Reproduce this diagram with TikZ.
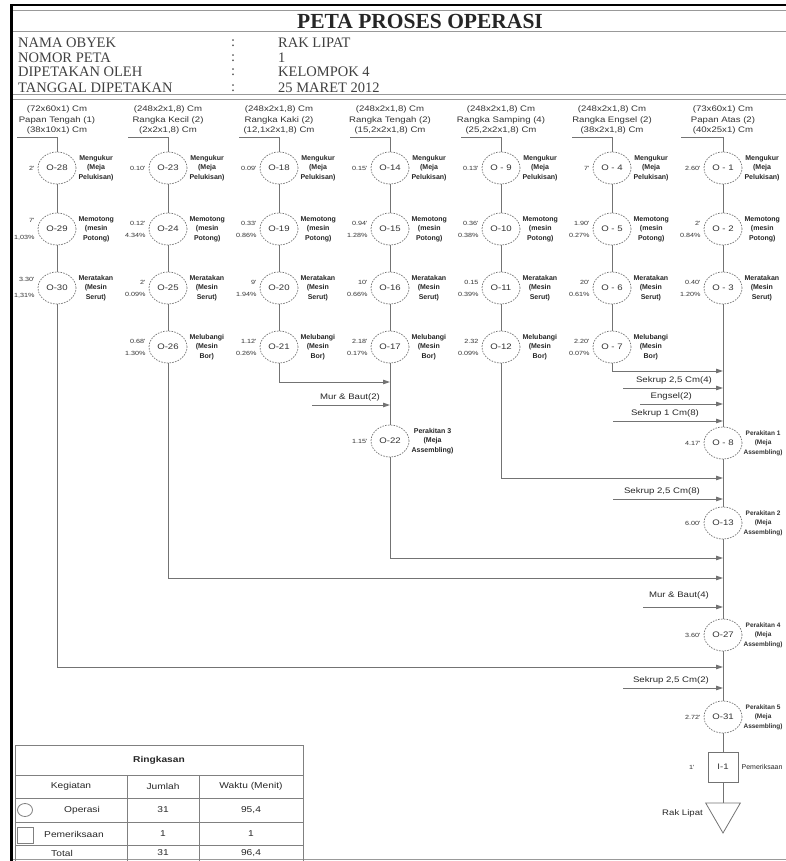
\documentclass[tikz,border=0pt]{standalone}
\usepackage{fontspec}
\setmainfont{Liberation Serif}
\setsansfont{Liberation Sans}
\newfontfamily\lblfont[FakeStretch=1.2]{Liberation Sans}
\usetikzlibrary{arrows.meta,positioning,shapes.geometric}

\begin{document}
\begin{tikzpicture}[x=1pt,y=-1pt,>={Triangle[length=7pt,width=4.5pt]},line join=miter,
  flow/.style={draw=black!55,line width=0.9pt},
  op/.style={ellipse,draw=black!55,dash pattern=on 1.6pt off 1.2pt,line width=0.7pt,minimum width=38pt,minimum height=32pt,inner sep=0pt,font=\lblfont\fontsize{8}{9}\selectfont,text=black!80},
  tm/.style={font=\lblfont\fontsize{6}{12}\selectfont,align=right,inner sep=1pt,text=black!80},
  ds/.style={font=\sffamily\bfseries\fontsize{7}{9.5}\selectfont,align=center,inner sep=1pt,text=black!85},
  asm/.style={font=\sffamily\bfseries\fontsize{6.5}{9.5}\selectfont,align=center,inner sep=0.5pt,text=black!80},
  hd/.style={font=\lblfont\fontsize{8}{10.5}\selectfont,align=center,inner sep=0pt,text=black!80},
  mat/.style={font=\lblfont\fontsize{8}{9}\selectfont,inner sep=0pt,text=black!85},
  info/.style={font=\fontsize{14.5}{16}\selectfont,anchor=west,inner sep=0pt,text=black!75},
  tb/.style={font=\lblfont\fontsize{8.5}{10}\selectfont,inner sep=0pt,text=black!85},
  frame/.style={draw=black!40,line width=1pt},
  tbl/.style={draw=black!50,line width=0.8pt}]
\useasboundingbox (0,0) rectangle (786,861);
% frame and header
\draw[line width=2.5pt] (11.5,861) -- (11.5,5) -- (786,5);
\draw[frame] (13,11) -- (786,11);
\draw[frame] (13,32) -- (786,32);
\draw[frame] (13,95) -- (786,95);
\draw[frame] (13,100) -- (786,100);
\draw[frame] (13,859.5) -- (786,859.5);
\node[font=\bfseries\fontsize{21.5}{24}\selectfont,text=black!85] (title) at (420,21) {PETA PROSES OPERASI};
\node[info] (k1) at (18,43) {NAMA OBYEK};
\node[info] (k2) at (18,58) {NOMOR PETA};
\node[info] (k3) at (18,72) {DIPETAKAN OLEH};
\node[info] (k4) at (18,88) {TANGGAL DIPETAKAN};
\node[info] (c1) at (231,43) {:};
\node[info] (c2) at (231,58) {:};
\node[info] (c3) at (231,72) {:};
\node[info] (c4) at (231,88) {:};
\node[info] (v1) at (278,43) {RAK LIPAT};
\node[info] (v2) at (278,58) {1};
\node[info] (v3) at (278,72) {KELOMPOK 4};
\node[info] (v4) at (278,88) {25 MARET 2012};
% material headers
\node[hd] (h1) at (57,120) {(72x60x1) Cm\\Papan Tengah (1)\\(38x10x1) Cm};
\node[hd] (h2) at (168,120) {(248x2x1,8) Cm\\Rangka Kecil (2)\\(2x2x1,8) Cm};
\node[hd] (h3) at (279,120) {(248x2x1,8) Cm\\Rangka Kaki (2)\\(12,1x2x1,8) Cm};
\node[hd] (h4) at (390,120) {(248x2x1,8) Cm\\Rangka Tengah (2)\\(15,2x2x1,8) Cm};
\node[hd] (h5) at (501,120) {(248x2x1,8) Cm\\Rangka Samping (4)\\(25,2x2x1,8) Cm};
\node[hd] (h6) at (612,120) {(248x2x1,8) Cm\\Rangka Engsel (2)\\(38x2x1,8) Cm};
\node[hd] (h7) at (723,120) {(73x60x1) Cm\\Papan Atas (2)\\(40x25x1) Cm};
\coordinate (s1) at (17,137);
\coordinate (s2) at (128,137);
\coordinate (s3) at (239,137);
\coordinate (s4) at (350,137);
\coordinate (s5) at (461,137);
\coordinate (s6) at (572,137);
\coordinate (s7) at (681,137);
% column 1
\node[op] (o28) at (57,168) {O-28};
\node[tm,left=2pt of o28] (t28) {2'};
\node[ds,right=1pt of o28] (d28) {Mengukur\\(Meja\\Pelukisan)};
\node[op] (o29) at (57,229) {O-29};
\node[tm,left=2pt of o29] (t29) {7'\\[5pt]1,03\%};
\node[ds,right=1pt of o29] (d29) {Memotong\\(mesin\\Potong)};
\node[op] (o30) at (57,288) {O-30};
\node[tm,left=2pt of o30] (t30) {3.30'\\[4pt]1,31\%};
\node[ds,right=1pt of o30] (d30) {Meratakan\\(Mesin\\Serut)};
% column 2
\node[op] (o23) at (168,168) {O-23};
\node[tm,left=2pt of o23] (t23) {0.10'};
\node[ds,right=1pt of o23] (d23) {Mengukur\\(Meja\\Pelukisan)};
\node[op] (o24) at (168,229) {O-24};
\node[tm,left=2pt of o24] (t24) {0.12'\\4.34\%};
\node[ds,right=1pt of o24] (d24) {Memotong\\(mesin\\Potong)};
\node[op] (o25) at (168,288) {O-25};
\node[tm,left=2pt of o25] (t25) {2'\\0.09\%};
\node[ds,right=1pt of o25] (d25) {Meratakan\\(Mesin\\Serut)};
\node[op] (o26) at (168,347) {O-26};
\node[tm,left=2pt of o26] (t26) {0.68'\\1.30\%};
\node[ds,right=1pt of o26] (d26) {Melubangi\\(Mesin\\Bor)};
% column 3
\node[op] (o18) at (279,168) {O-18};
\node[tm,left=2pt of o18] (t18) {0.09'};
\node[ds,right=1pt of o18] (d18) {Mengukur\\(Meja\\Pelukisan)};
\node[op] (o19) at (279,229) {O-19};
\node[tm,left=2pt of o19] (t19) {0.33'\\0.86\%};
\node[ds,right=1pt of o19] (d19) {Memotong\\(mesin\\Potong)};
\node[op] (o20) at (279,288) {O-20};
\node[tm,left=2pt of o20] (t20) {9'\\1.94\%};
\node[ds,right=1pt of o20] (d20) {Meratakan\\(Mesin\\Serut)};
\node[op] (o21) at (279,347) {O-21};
\node[tm,left=2pt of o21] (t21) {1.12'\\0.26\%};
\node[ds,right=1pt of o21] (d21) {Melubangi\\(Mesin\\Bor)};
% column 4
\node[op] (o14) at (390,168) {O-14};
\node[tm,left=2pt of o14] (t14) {0.15'};
\node[ds,right=1pt of o14] (d14) {Mengukur\\(Meja\\Pelukisan)};
\node[op] (o15) at (390,229) {O-15};
\node[tm,left=2pt of o15] (t15) {0.94'\\1.28\%};
\node[ds,right=1pt of o15] (d15) {Memotong\\(mesin\\Potong)};
\node[op] (o16) at (390,288) {O-16};
\node[tm,left=2pt of o16] (t16) {10'\\0.66\%};
\node[ds,right=1pt of o16] (d16) {Meratakan\\(Mesin\\Serut)};
\node[op] (o17) at (390,347) {O-17};
\node[tm,left=2pt of o17] (t17) {2.18'\\0.17\%};
\node[ds,right=1pt of o17] (d17) {Melubangi\\(Mesin\\Bor)};
\node[op] (o22) at (390,441) {O-22};
\node[tm,left=2pt of o22] (t22) {1.15'};
\node[ds,right=1pt of o22] (d22) {Perakitan 3\\(Meja\\Assembling)};
% column 5
\node[op] (o9) at (501,168) {O - 9};
\node[tm,left=2pt of o9] (t9) {0.13'};
\node[ds,right=1pt of o9] (d9) {Mengukur\\(Meja\\Pelukisan)};
\node[op] (o10) at (501,229) {O-10};
\node[tm,left=2pt of o10] (t10) {0.36'\\0.38\%};
\node[ds,right=1pt of o10] (d10) {Memotong\\(mesin\\Potong)};
\node[op] (o11) at (501,288) {O-11};
\node[tm,left=2pt of o11] (t11) {0.15\\0.39\%};
\node[ds,right=1pt of o11] (d11) {Meratakan\\(Mesin\\Serut)};
\node[op] (o12) at (501,347) {O-12};
\node[tm,left=2pt of o12] (t12) {2.32\\0.09\%};
\node[ds,right=1pt of o12] (d12) {Melubangi\\(Mesin\\Bor)};
% column 6
\node[op] (o4) at (612,168) {O - 4};
\node[tm,left=2pt of o4] (t4) {7'};
\node[ds,right=1pt of o4] (d4) {Mengukur\\(Meja\\Pelukisan)};
\node[op] (o5) at (612,229) {O - 5};
\node[tm,left=2pt of o5] (t5) {1.90'\\0.27\%};
\node[ds,right=1pt of o5] (d5) {Memotong\\(mesin\\Potong)};
\node[op] (o6) at (612,288) {O - 6};
\node[tm,left=2pt of o6] (t6) {20'\\0.61\%};
\node[ds,right=1pt of o6] (d6) {Meratakan\\(Mesin\\Serut)};
\node[op] (o7) at (612,347) {O - 7};
\node[tm,left=2pt of o7] (t7) {2.20'\\0.07\%};
\node[ds,right=1pt of o7] (d7) {Melubangi\\(Mesin\\Bor)};
% column 7 and main line
\node[op] (o1) at (723,168) {O - 1};
\node[tm,left=2pt of o1] (t1) {2.60'};
\node[ds,right=1pt of o1] (d1) {Mengukur\\(Meja\\Pelukisan)};
\node[op] (o2) at (723,229) {O - 2};
\node[tm,left=2pt of o2] (t2) {2'\\0.84\%};
\node[ds,right=1pt of o2] (d2) {Memotong\\(mesin\\Potong)};
\node[op] (o3) at (723,288) {O - 3};
\node[tm,left=2pt of o3] (t3) {0.40'\\1.20\%};
\node[ds,right=1pt of o3] (d3) {Meratakan\\(Mesin\\Serut)};
\node[op] (o8) at (723,443) {O - 8};
\node[tm,left=2pt of o8] (t8) {4.17'};
\node[asm,right=0.5pt of o8] (d8) {Perakitan 1\\(Meja\\Assembling)};
\node[op] (o13) at (723,523) {O-13};
\node[tm,left=2pt of o13] (t13) {6.00'};
\node[asm,right=0.5pt of o13] (d13) {Perakitan 2\\(Meja\\Assembling)};
\node[op] (o27) at (723,635) {O-27};
\node[tm,left=2pt of o27] (t27) {3.60'};
\node[asm,right=0.5pt of o27] (d27) {Perakitan 4\\(Meja\\Assembling)};
\node[op] (o31) at (723,717) {O-31};
\node[tm,left=2pt of o31] (t31) {2.72'};
\node[asm,right=0.5pt of o31] (d31) {Perakitan 5\\(Meja\\Assembling)};
\node[draw=black!55,line width=0.8pt,minimum size=30pt,inner sep=0pt,font=\lblfont\fontsize{8}{9}\selectfont,text=black!80] (i1) at (723,767) {I-1};
\node[tm,left=12pt of i1] (ti1) {1'};
\node[font=\sffamily\fontsize{7}{8}\selectfont,inner sep=0pt,text=black!85,right=3pt of i1] (di1) {Pemeriksaan};
\node[regular polygon,regular polygon sides=3,shape border rotate=180,draw=black!55,line width=0.8pt,minimum size=40pt,inner sep=0pt] (rak) at (723,813) {};
\node[mat,left=8pt of rak] (drak) {Rak Lipat};
% flows
\draw[flow] (s1) -| (o28);
\draw[flow] (o28) -- (o29);
\draw[flow] (o29) -- (o30);
\draw[flow] (s2) -| (o23);
\draw[flow] (o23) -- (o24);
\draw[flow] (o24) -- (o25);
\draw[flow] (o25) -- (o26);
\draw[flow] (s3) -| (o18);
\draw[flow] (o18) -- (o19);
\draw[flow] (o19) -- (o20);
\draw[flow] (o20) -- (o21);
\draw[flow] (s4) -| (o14);
\draw[flow] (o14) -- (o15);
\draw[flow] (o15) -- (o16);
\draw[flow] (o16) -- (o17);
\draw[flow] (o17) -- (o22);
\draw[flow] (s5) -| (o9);
\draw[flow] (o9) -- (o10);
\draw[flow] (o10) -- (o11);
\draw[flow] (o11) -- (o12);
\draw[flow] (s6) -| (o4);
\draw[flow] (o4) -- (o5);
\draw[flow] (o5) -- (o6);
\draw[flow] (o6) -- (o7);
\draw[flow] (s7) -| (o1);
\draw[flow] (o1) -- (o2);
\draw[flow] (o2) -- (o3);
\draw[flow] (o3) -- (o8);
\draw[flow] (o8) -- (o13);
\draw[flow] (o13) -- (o27);
\draw[flow] (o27) -- (o31);
\draw[flow] (o31) -- (i1);
\draw[flow] (i1) -- (rak);
\coordinate (j21) at (390,382);
\coordinate (j7) at (723,371);
\coordinate (j12) at (723,478);
\coordinate (j22) at (723,558);
\coordinate (j26) at (723,578);
\coordinate (j30) at (723,667);
\draw[flow,->] (o21) |- (j21);
\draw[flow,->] (o7) |- (j7);
\draw[flow,->] (o12) |- (j12);
\draw[flow,->] (o22) |- (j22);
\draw[flow,->] (o26) |- (j26);
\draw[flow,->] (o30) |- (j30);
% incoming parts
\coordinate (a1) at (312,405);
\coordinate (b1) at (390,405);
\draw[flow,->] (a1) -- (b1);
\node[mat,anchor=south east] (m1) at (380,401) {Mur \& Baut(2)};
\coordinate (a2) at (623,388);
\coordinate (b2) at (723,388);
\draw[flow,->] (a2) -- (b2);
\node[mat,anchor=south east] (m2) at (712,384) {Sekrup 2,5 Cm(4)};
\coordinate (a3) at (640,404);
\coordinate (b3) at (723,404);
\draw[flow,->] (a3) -- (b3);
\node[mat,anchor=south east] (m3) at (692,400) {Engsel(2)};
\coordinate (a4) at (613,421);
\coordinate (b4) at (723,421);
\draw[flow,->] (a4) -- (b4);
\node[mat,anchor=south east] (m4) at (699,417) {Sekrup 1 Cm(8)};
\coordinate (a5) at (613,499);
\coordinate (b5) at (723,499);
\draw[flow,->] (a5) -- (b5);
\node[mat,anchor=south east] (m5) at (700,495) {Sekrup 2,5 Cm(8)};
\coordinate (a6) at (643,607);
\coordinate (b6) at (723,607);
\draw[flow,->] (a6) -- (b6);
\node[mat,anchor=south east] (m6) at (709,599) {Mur \& Baut(4)};
\coordinate (a7) at (623,688);
\coordinate (b7) at (723,688);
\draw[flow,->] (a7) -- (b7);
\node[mat,anchor=south east] (m7) at (709,684) {Sekrup 2,5 Cm(2)};
% summary table
\draw[tbl] (15,745) rectangle (303,861);
\draw[tbl] (15,775) -- (303,775);
\draw[tbl] (15,798) -- (303,798);
\draw[tbl] (15,822) -- (303,822);
\draw[tbl] (15,845) -- (303,845);
\draw[tbl] (127,775) -- (127,861);
\draw[tbl] (199,775) -- (199,861);
\draw[tbl] (25,810) ellipse (7.5pt and 6.5pt);
\draw[tbl] (17,827) rectangle (33,843);
\node[tb,font=\lblfont\bfseries\fontsize{8.5}{10}\selectfont] (r0) at (159,760) {Ringkasan};
\node[tb] (r1) at (71,786) {Kegiatan};
\node[tb] (r2) at (163,786) {Jumlah};
\node[tb] (r3) at (251,786) {Waktu (Menit)};
\node[tb] (r4) at (82,810) {Operasi};
\node[tb] (r5) at (163,810) {31};
\node[tb] (r6) at (251,810) {95,4};
\node[tb] (r7) at (74,834) {Pemeriksaan};
\node[tb] (r8) at (163,834) {1};
\node[tb] (r9) at (251,834) {1};
\node[tb] (r10) at (62,853) {Total};
\node[tb] (r11) at (163,853) {31};
\node[tb] (r12) at (251,853) {96,4};
\end{tikzpicture}
\end{document}
